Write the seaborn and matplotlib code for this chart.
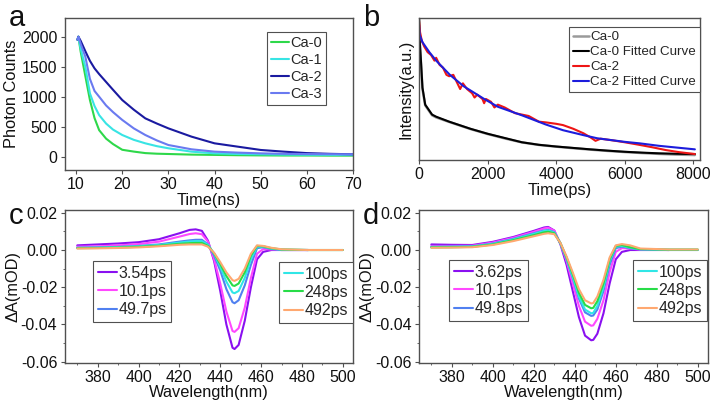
import numpy as np
import matplotlib
matplotlib.use("Agg")
import matplotlib.pyplot as plt
import seaborn as sns

# ---------------- data ----------------
# (a) photoluminescence decays
t_a = [10.3, 10.5, 11, 12, 13, 14, 15, 16.5, 18, 20, 22.5, 25, 27.5, 30,
       35, 40, 45, 50, 55, 60, 65, 70]
ca0_a = [1950, 2000, 1750, 1350, 950, 650, 450, 310, 220, 125, 95, 70, 60, 55,
         45, 40, 35, 32, 30, 30, 28, 28]
ca1_a = [1950, 2000, 1800, 1500, 1060, 850, 700, 560, 460, 370, 290, 232, 185, 150,
         94, 66, 55, 50, 45, 42, 40, 39]
ca2_a = [1950, 2000, 1930, 1760, 1600, 1475, 1380, 1250, 1120, 950, 790, 646, 560, 480,
         343, 232, 177, 122, 94, 70, 58, 50]
ca3_a = [1950, 2000, 1880, 1670, 1300, 1100, 1005, 860, 750, 620, 480, 370, 280, 204,
         133, 94, 78, 66, 58, 54, 52, 50]

# (b) normalized decays + fits
t_b0 = [0, 20, 60, 100, 180, 380, 500, 880, 1500, 2000, 2500, 3000, 3500, 4000,
        4500, 5000, 5500, 6000, 6500, 7000, 7500, 8050]
ca0_fit = [1.0, 0.84, 0.68, 0.51, 0.39, 0.32, 0.305, 0.27, 0.22, 0.185, 0.155, 0.125,
           0.107, 0.095, 0.085, 0.075, 0.066, 0.058, 0.052, 0.047, 0.044, 0.042]
ca0_raw = [1.0, 0.83, 0.67, 0.5, 0.385, 0.315, 0.3, 0.268, 0.218, 0.183, 0.152, 0.124,
           0.106, 0.094, 0.083, 0.073, 0.064, 0.056, 0.049, 0.043, 0.038, 0.035]
t_b2 = [0, 30, 80, 150, 250, 350, 450, 500, 600, 700, 800, 880, 1000, 1100, 1200,
        1280, 1400, 1550, 1620, 1700, 1850, 1900, 1950, 2100, 2200, 2300, 2500, 2800,
        3000, 3200, 3500, 3700, 4000, 4200, 4500, 4800, 5000, 5150, 5300, 5600, 6000,
        6400, 6800, 7200, 7600, 8050]
ca2_raw = [0.98, 0.9, 0.84, 0.8, 0.76, 0.74, 0.7, 0.72, 0.67, 0.65, 0.6, 0.59, 0.6,
           0.55, 0.5, 0.54, 0.5, 0.47, 0.44, 0.46, 0.43, 0.4, 0.43, 0.41, 0.37, 0.39,
           0.37, 0.33, 0.32, 0.31, 0.27, 0.265, 0.255, 0.246, 0.22, 0.188, 0.16, 0.135,
           0.15, 0.14, 0.125, 0.108, 0.09, 0.07, 0.055, 0.042]
t_b2fit = [0, 20, 100, 300, 500, 900, 1300, 1900, 2300, 3000, 3700, 4200, 4800, 5200,
           6000, 6450, 7000, 7500, 8050]
ca2_fit = [0.95, 0.88, 0.83, 0.76, 0.7, 0.6, 0.52, 0.43, 0.375, 0.315, 0.25, 0.21,
           0.175, 0.153, 0.128, 0.117, 0.1, 0.088, 0.075]

# (c) transient absorption spectra, Ca-0
nan = np.nan
wl_c = [370, 380, 390, 400, 410, 420, 425, 428, 431, 434, 437, 440, 443, 446, 447,
        449, 452, 455, 458, 461, 465, 470, 483, 500]
labels_c = ["3.54ps", "10.1ps", "49.7ps", "100ps", "248ps", "492ps"]
spec_c = [
    [0.0025, 0.003, 0.0035, 0.0042, 0.0058, 0.009, 0.0108, 0.0111, 0.0103, 0.005, -0.006,
     -0.022, -0.040, -0.0525, -0.0532, -0.051, -0.038, -0.020, -0.005, -0.001, 0.0, 0.0, 0.0, nan],
    [0.0018, 0.002, 0.0025, 0.0032, 0.0045, 0.0072, 0.0086, 0.009, 0.0085, 0.0045, -0.005,
     -0.018, -0.033, -0.0435, -0.044, -0.042, -0.031, -0.015, -0.002, 0.0005, 0.0003, 0.0, 0.0, nan],
    [0.0012, 0.0014, 0.0017, 0.0022, 0.003, 0.0045, 0.0052, 0.0055, 0.0055, 0.003, -0.003,
     -0.011, -0.021, -0.028, -0.0286, -0.027, -0.019, -0.008, 0.001, 0.0015, 0.0005, 0.0, 0.0, nan],
    [0.0012, 0.0013, 0.0016, 0.002, 0.0027, 0.004, 0.0046, 0.0048, 0.0048, 0.0028, -0.002,
     -0.009, -0.017, -0.0228, -0.0232, -0.022, -0.015, -0.005, 0.0018, 0.0018, 0.0008, 0.0002, 0.0, 0.0],
    [0.001, 0.0011, 0.0013, 0.0017, 0.0023, 0.0033, 0.0037, 0.0038, 0.0038, 0.0022, -0.0018,
     -0.0075, -0.014, -0.019, -0.0193, -0.018, -0.012, -0.003, 0.0022, 0.002, 0.001, 0.0003, 0.0, 0.0],
    [0.0008, 0.0009, 0.0011, 0.0014, 0.002, 0.0028, 0.003, 0.003, 0.003, 0.0018, -0.0015,
     -0.0065, -0.012, -0.0162, -0.0166, -0.0155, -0.01, -0.002, 0.0025, 0.0022, 0.0012, 0.0004, 0.0, 0.0],
]

# (d) transient absorption spectra, Ca-2
wl_d = [370, 380, 390, 400, 410, 420, 425, 427, 430, 433, 436, 439, 442, 445, 448,
        449, 451, 454, 457, 460, 463, 467, 472, 486, 500]
labels_d = ["3.62ps", "10.1ps", "49.8ps", "100ps", "248ps", "492ps"]
spec_d = [
    [0.003, 0.0028, 0.0027, 0.0044, 0.007, 0.0103, 0.0121, 0.0124, 0.0105, 0.003, -0.008,
     -0.022, -0.036, -0.046, -0.0485, -0.0483, -0.045, -0.034, -0.018, -0.005, -0.001, 0.0, 0.0, 0.0, nan],
    [0.0022, 0.0022, 0.0023, 0.004, 0.0066, 0.0098, 0.0116, 0.012, 0.0104, 0.0035, -0.006,
     -0.018, -0.030, -0.0385, -0.0407, -0.0405, -0.037, -0.027, -0.012, -0.001, 0.001, 0.0008, 0.0002, 0.0, nan],
    [0.0018, 0.0019, 0.002, 0.0035, 0.006, 0.009, 0.0105, 0.0108, 0.0096, 0.0035, -0.005,
     -0.015, -0.026, -0.0335, -0.0354, -0.0352, -0.032, -0.022, -0.008, 0.001, 0.0018, 0.001, 0.0003, 0.0, 0.0],
    [0.0016, 0.0017, 0.0019, 0.0033, 0.0057, 0.0087, 0.0102, 0.0105, 0.0094, 0.0036, -0.0045,
     -0.0145, -0.025, -0.032, -0.034, -0.0338, -0.030, -0.020, -0.006, 0.0018, 0.0022, 0.0012, 0.0004, 0.0002, 0.0002],
    [0.0014, 0.0015, 0.0017, 0.003, 0.0053, 0.008, 0.0095, 0.0098, 0.009, 0.0037, -0.004,
     -0.013, -0.023, -0.0295, -0.0313, -0.0311, -0.0275, -0.018, -0.005, 0.0022, 0.0027, 0.0015, 0.0005, 0.0002, 0.0002],
    [0.0012, 0.0013, 0.0015, 0.0027, 0.0048, 0.0074, 0.0087, 0.009, 0.0085, 0.0038, -0.0035,
     -0.012, -0.021, -0.027, -0.0287, -0.0285, -0.025, -0.016, -0.004, 0.0025, 0.0032, 0.0025, 0.0008, 0.0003, 0.0003],
]

colors_a = ["#2ed84a", "#38e4e4", "#1a1aa0", "#6a7af0"]
colors_spec = ["#8a10f0", "#ff48ff", "#5080f0", "#30e6e6", "#28dc48", "#ffa870"]

# ---------------- style ----------------
sns.set_style("ticks")
plt.rcParams.update({
    "font.family": ["Liberation Sans", "DejaVu Sans"],
    "axes.edgecolor": "#505050",
    "axes.linewidth": 1.0,
    "xtick.color": "#505050",
    "ytick.color": "#505050",
    "xtick.labelcolor": "#111111",
    "ytick.labelcolor": "#111111",
    "xtick.labelsize": 11.5,
    "ytick.labelsize": 11.5,
    "xtick.major.pad": 2,
    "ytick.major.pad": 2.5,
    "axes.labelsize": 11.8,
    "axes.labelcolor": "#111111",
    "xtick.major.size": 3,
    "ytick.major.size": 3,
    "xtick.minor.size": 1.5,
    "ytick.minor.size": 1.5,
    "axes.unicode_minus": True,
})

fig = plt.figure(figsize=(7.19, 4.01), dpi=100)
ax_a = fig.add_axes([0.0904, 0.5761, 0.4006, 0.379])
ax_b = fig.add_axes([0.5828, 0.601, 0.3908, 0.354])
ax_c = fig.add_axes([0.0904, 0.0948, 0.4006, 0.3815])
ax_d = fig.add_axes([0.5828, 0.0948, 0.4019, 0.3815])

leg_kw = dict(frameon=True, fancybox=False, edgecolor="#505050", framealpha=1,
              handlelength=1.2, handletextpad=0.1, labelspacing=0.2,
              borderpad=0.3, borderaxespad=0)

# ---- (a)
for y, lab, c in zip([ca0_a, ca1_a, ca2_a, ca3_a], ["Ca-0", "Ca-1", "Ca-2", "Ca-3"], colors_a):
    sns.lineplot(x=t_a, y=y, ax=ax_a, color=c, lw=1.5, label=lab, sort=False)
ax_a.set_xlim(7.6, 70)
ax_a.set_ylim(-210, 2310)
ax_a.set_xticks(range(10, 71, 10))
ax_a.set_yticks(range(0, 2001, 500))
ax_a.set_xlabel("Time(ns)", labelpad=1)
ax_a.set_ylabel("Photon Counts", labelpad=2)
leg = ax_a.legend(loc="upper left", bbox_to_anchor=(0.701, 0.908), fontsize=10.5, **leg_kw)
leg.get_frame().set_linewidth(0.8)

# ---- (b)
sns.lineplot(x=t_b0, y=ca0_raw, ax=ax_b, color="#9a9a9a", lw=1.8, label="Ca-0", sort=False)
sns.lineplot(x=t_b0, y=ca0_fit, ax=ax_b, color="#000000", lw=1.5, label="Ca-0 Fitted Curve", sort=False)
sns.lineplot(x=t_b2, y=ca2_raw, ax=ax_b, color="#ee1515", lw=1.5, label="Ca-2", sort=False)
sns.lineplot(x=t_b2fit, y=ca2_fit, ax=ax_b, color="#1c1cdc", lw=1.5, label="Ca-2 Fitted Curve", sort=False)
ax_b.set_xlim(0, 8200)
ax_b.set_ylim(0, 1.0)
ax_b.set_xticks(range(0, 8001, 2000))
ax_b.set_yticks([])
ax_b.set_xlabel("Time(ps)", labelpad=1)
ax_b.set_ylabel("Intensity(a.u.)", labelpad=4)
leg = ax_b.legend(loc="upper right", bbox_to_anchor=(1.0, 0.937), fontsize=9.6, **leg_kw)
leg.get_frame().set_linewidth(0.8)

# ---- (c) and (d)
def spectra(ax, wl, specs, labels, anchors):
    for y, lab, c in zip(specs, labels, colors_spec):
        sns.lineplot(x=wl, y=y, ax=ax, color=c, lw=1.5, label=lab, sort=False)
    ax.set_xlim(364, 505)
    ax.set_ylim(-0.0607, 0.0215)
    ax.set_xticks(range(380, 501, 20))
    ax.set_yticks([-0.06, -0.04, -0.02, 0.0, 0.02])
    ax.yaxis.set_major_formatter(matplotlib.ticker.FormatStrFormatter("%.2f"))
    ax.xaxis.set_minor_locator(matplotlib.ticker.MultipleLocator(10))
    ax.yaxis.set_minor_locator(matplotlib.ticker.MultipleLocator(0.01))
    ax.set_xlabel("Wavelength(nm)", labelpad=0)
    ax.set_ylabel("ΔA(mOD)", labelpad=0)
    lines = ax.get_lines()
    l1 = ax.legend(handles=lines[:3], loc="upper left", bbox_to_anchor=anchors[0],
                   fontsize=11.5, **leg_kw)
    l1.get_frame().set_linewidth(0.8)
    ax.add_artist(l1)
    l2 = ax.legend(handles=lines[3:6], loc="upper left", bbox_to_anchor=anchors[1],
                   fontsize=11.5, **leg_kw)
    l2.get_frame().set_linewidth(0.8)

spectra(ax_c, wl_c, spec_c, labels_c, [(0.097, 0.667), (0.743, 0.66)])
spectra(ax_d, wl_d, spec_d, labels_d, [(0.104, 0.673), (0.74, 0.673)])

# panel letters
for x, y, s in [(0.012, 0.955, "a"), (0.505, 0.955, "b"), (0.012, 0.462, "c"), (0.505, 0.462, "d")]:
    fig.text(x, y, s, fontsize=21, color="#111111", ha="left", va="center")

fig.savefig("out.png", dpi=100)
